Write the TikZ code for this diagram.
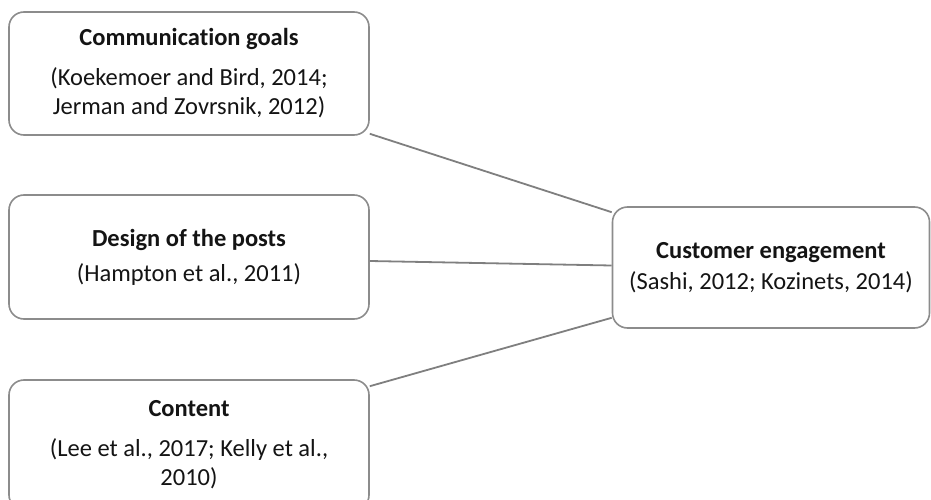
\documentclass[tikz,border=0pt]{standalone}
\usepackage{fontspec}
\setmainfont{Carlito}[Ligatures=NoCommon]
\usetikzlibrary{calc}
\definecolor{boxgray}{HTML}{8C8C8C}
\definecolor{linegray}{HTML}{7F7F7F}
\definecolor{txt}{HTML}{141414}
\begin{document}
\begin{tikzpicture}[x=1pt,y=-1pt,
  box/.style={draw=boxgray, line width=1.6pt, rounded corners=15pt, fill=white,
    align=center, text=txt, font=\fontsize{24.5}{29}\selectfont, inner sep=0pt},
  link/.style={draw=linegray, line width=1.8pt}]
\useasboundingbox (0,0) rectangle (931,500);
\clip (0,0) rectangle (931,500);
\node[box, minimum width=360pt, minimum height=123pt] (goals) at (189,73.5)
  {\textbf{Communication goals}\\[11pt](Koekemoer and Bird, 2014;\\Jerman and Zovrsnik, 2012)};
\node[box, minimum width=360pt, minimum height=124pt] (design) at (189,257)
  {\textbf{Design of the posts}\\[6pt](Hampton et al., 2011)};
\node[box, minimum width=360pt, minimum height=130pt] (content) at (189,445)
  {\textbf{Content}\\[11pt](Lee et al., 2017; Kelly et al.,\\2010)};
\node[box, minimum width=317pt, minimum height=121pt] (engage) at (771,267.5)
  {\textbf{Customer engagement}\\[2pt](Sashi, 2012; Kozinets, 2014)};
\draw[link] ([yshift=2pt]goals.south east) -- ([yshift=-6pt]engage.north west);
\draw[link] ([yshift=-4pt]design.east) -- ([yshift=2pt]engage.west);
\draw[link] ([yshift=-7pt]content.north east) -- ([yshift=11pt]engage.south west);
\end{tikzpicture}
\end{document}
